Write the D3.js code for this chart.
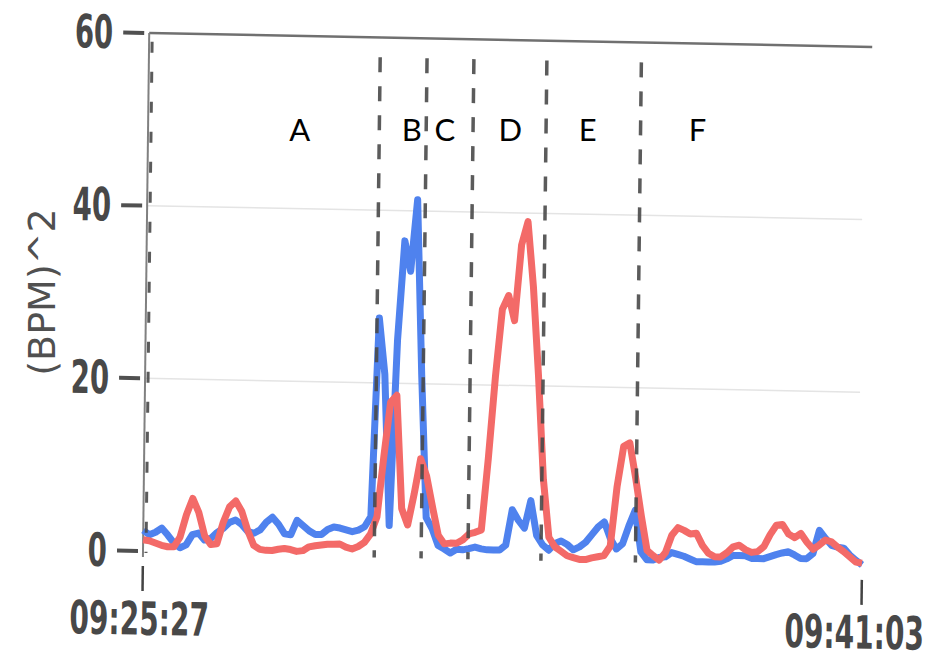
<!DOCTYPE html>
<html><head><meta charset="utf-8">
<script src="https://cdn.jsdelivr.net/npm/d3@7"></script>
<style>body{margin:0;background:#fff}</style>
</head><body>
<svg id="chart" width="930" height="660"></svg>
<script>
// ---- data ----
const startLabel = "09:25:27";
const endLabel = "09:41:03";
const durationSec = 936;          // 09:25:27 -> 09:41:03
const sampleStepSec = 8;          // one reading every 8 s
const yTicks = [0, 20, 40, 60];
const gridValues = [20, 40];
const yLabel = "(BPM)^2";
const boundarySec = [0, 301, 362, 423, 518, 641];
const phaseLabels = ["A", "B", "C", "D", "E", "F"];
const phaseLabelSec = [204, 350, 393, 478, 579, 722];

const blueValues = [
  2.4,1.9,2.2,2.7,1.9,1.0,0.45,0.8,2.0,2.2,
  1.4,1.6,2.3,2.8,3.5,3.8,3.3,2.5,2.3,2.7,
  3.6,4.2,3.4,2.3,2.2,3.9,3.3,2.7,2.3,2.3,
  2.9,3.2,3.1,2.9,2.7,2.9,3.3,4.5,27.5,21.0,
  3.5,25.0,36.5,33.0,41.3,21.0,4.5,3.2,1.3,0.9,
  0.45,0.9,0.85,1.0,1.2,1.0,0.9,0.9,0.9,1.5,
  5.6,4.4,3.5,6.7,2.7,1.6,1.0,1.8,2.1,1.7,
  1.1,1.45,2.0,2.9,3.8,4.4,2.5,1.3,1.9,4.0,
  5.8,1.0,0.1,0.1,0.4,0.5,1.0,0.8,0.6,0.3,
  0.0,0.0,0.0,0.0,0.1,0.4,0.8,0.8,0.8,0.5,
  0.5,0.5,0.75,1.0,1.2,1.35,1.0,0.6,0.6,1.2,
  3.9,3.0,2.2,2.0,1.9,1.1,0.5,0.0
];
const redValues = [
  1.3,1.2,0.95,0.7,0.55,0.55,1.7,4.3,6.2,4.6,
  1.9,0.9,1.0,3.5,5.3,6.0,4.8,2.6,0.9,0.45,
  0.35,0.35,0.5,0.6,0.5,0.3,0.4,0.85,1.0,1.1,
  1.2,1.2,1.25,0.9,0.7,1.0,1.5,2.5,4.5,11.5,
  17.8,18.6,5.5,3.6,7.2,11.3,9.3,5.8,2.5,1.5,
  1.6,1.6,2.0,2.7,2.9,3.2,11.5,21.0,28.8,30.4,
  27.5,36.3,39.0,31.5,21.2,9.2,2.5,1.4,0.9,0.4,
  0.2,0.0,0.0,0.2,0.35,0.5,1.6,8.5,13.2,13.6,
  9.6,5.2,1.2,0.6,0.1,1.0,3.0,3.9,3.6,3.2,
  3.3,1.9,1.0,0.6,0.6,1.1,1.8,2.0,1.5,1.2,
  1.3,1.9,3.3,4.4,4.5,3.4,3.0,3.5,2.5,1.7,
  2.2,2.8,2.6,2.0,1.5,0.9,0.3,0.2
];

// ---- layout ----
const svg = d3.select("#chart");
const x = d3.scaleLinear().domain([0, durationSec]).range([143, 862]);
const y = d3.scaleLinear().domain([0, 60]).range([551, 33]);
const ox = x(0), oy = y(0);

// the scanned chart is slightly skewed
const g = svg.append("g")
  .attr("transform", `translate(${ox},${oy}) matrix(1,0.0193,-0.012,1,0,0) translate(${-ox},${-oy})`);

// grid lines
g.selectAll("line.grid").data(gridValues).join("line")
  .attr("class", "grid")
  .attr("x1", x(0)).attr("x2", x(durationSec) - 4)
  .attr("y1", d => y(d)).attr("y2", d => y(d))
  .attr("stroke", "#e4e4e4").attr("stroke-width", 1.5);

// top border
g.append("line")
  .attr("x1", x(0)).attr("x2", x(durationSec) + 4)
  .attr("y1", y(60)).attr("y2", y(60))
  .attr("stroke", "#707070").attr("stroke-width", 2.5);

// y axis line
g.append("line")
  .attr("x1", x(0)).attr("x2", x(0))
  .attr("y1", y(60)).attr("y2", y(0) + 6)
  .attr("stroke", "#808080").attr("stroke-width", 2);

// y ticks + labels
g.selectAll("line.ytick").data(yTicks).join("line")
  .attr("class", "ytick")
  .attr("x1", x(0) - 26).attr("x2", x(0) - 5)
  .attr("y1", d => y(d)).attr("y2", d => y(d))
  .attr("stroke", "#505050").attr("stroke-width", 4);

const labelFont = "'DejaVu Sans', sans-serif";
g.selectAll("text.ylab").data(yTicks).join("text")
  .attr("class", "ylab")
  .attr("transform", d => `translate(${x(0) - 36},${y(d)}) scale(0.6,1)`)
  .attr("text-anchor", "end")
  .attr("dominant-baseline", "central")
  .attr("font-family", labelFont).attr("font-weight", "bold")
  .attr("font-size", 46).attr("fill", "#484848")
  .text(d => d);

// x ticks + labels
const xTickSec = [0, durationSec];
const xTickText = [startLabel, endLabel];
g.selectAll("line.xtick").data(xTickSec).join("line")
  .attr("class", "xtick")
  .attr("x1", d => x(d)).attr("x2", d => x(d))
  .attr("y1", y(0) + 15).attr("y2", y(0) + 40)
  .attr("stroke", "#444").attr("stroke-width", 2.5);
g.selectAll("text.xlab").data(xTickSec).join("text")
  .attr("class", "xlab")
  .attr("transform", (d, i) => `translate(${x(d) - (i === 0 ? 3 : 7)},${y(0) + 68}) scale(0.61,1)`)
  .attr("text-anchor", "middle")
  .attr("dominant-baseline", "central")
  .attr("font-family", labelFont).attr("font-weight", "bold")
  .attr("font-size", 46).attr("fill", "#484848")
  .text((d, i) => xTickText[i]);

// series
const line = d3.line()
  .x((d, i) => x(i * sampleStepSec))
  .y(d => y(d));
g.append("path").datum(blueValues)
  .attr("d", line).attr("fill", "none")
  .attr("stroke", "#4f82ee").attr("stroke-width", 7)
  .attr("stroke-linejoin", "round");
g.append("path").datum(redValues)
  .attr("d", line).attr("fill", "none")
  .attr("stroke", "#f36a68").attr("stroke-width", 7)
  .attr("stroke-linejoin", "round");

// phase boundaries (dashed)
g.selectAll("line.bound").data(boundarySec).join("line")
  .attr("class", "bound")
  .attr("x1", d => x(d) + (d === 0 ? 3 : 0)).attr("x2", d => x(d) + (d === 0 ? 3 : 0))
  .attr("y1", d => d === 0 ? y(59) : y(57.7)).attr("y2", y(0) + 2)
  .attr("stroke", "#4a4a4a").attr("stroke-width", d => d === 0 ? 3 : 3.5)
  .attr("stroke-dasharray", d => d === 0 ? "11 19" : "15 14")
  .attr("opacity", 0.9);

// y axis title
svg.append("text")
  .attr("transform", "translate(42,292) rotate(-90)")
  .attr("text-anchor", "middle")
  .attr("dominant-baseline", "central")
  .attr("font-family", labelFont)
  .attr("font-size", 38).attr("fill", "#505050")
  .text(yLabel);

// phase letters
svg.selectAll("text.phase").data(phaseLabels).join("text")
  .attr("class", "phase")
  .attr("x", (d, i) => x(phaseLabelSec[i]))
  .attr("y", 141)
  .attr("text-anchor", "middle")
  .attr("font-family", "Lato, 'Open Sans', sans-serif")
  .attr("font-size", 31).attr("fill", "#000")
  .text(d => d);
</script>
</body></html>
